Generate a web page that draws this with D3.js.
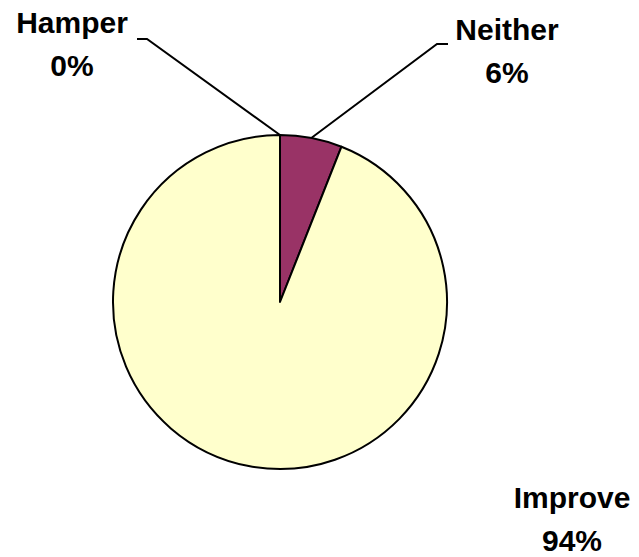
<!DOCTYPE html>
<html>
<head>
<meta charset="utf-8">
<script src="https://cdn.jsdelivr.net/npm/d3@7"></script>
<style>
  html, body { margin: 0; padding: 0; background: #fff; }
  svg { display: block; }
  text { font-family: "Liberation Sans", Arial, sans-serif; font-weight: bold; fill: #000; }
</style>
</head>
<body>
<svg id="chart" width="639" height="557"></svg>
<script>
// Survey answers, drawn clockwise from 12 o'clock
const categories = ["Hamper", "Neither", "Improve"];
const values = [0, 6, 94];
const percentLabels = ["0%", "6%", "94%"];
const colors = ["#993366", "#993366", "#FFFFCC"];

const width = 639, height = 557;
const cx = 280, cy = 302, radius = 167;

// Label placement: text centre / baselines, and optional leader-line elbow
const labelLayout = {
  Hamper:  { x: 72,  y: 33,  elbow: [147, 39], end: [137, 39] },
  Neither: { x: 507, y: 40,  elbow: [437, 44], end: [448, 44] },
  Improve: { x: 572, y: 508, elbow: null }
};
const lineGap = 43;

const svg = d3.select("#chart");
const g = svg.append("g").attr("transform", `translate(${cx},${cy})`);

const data = categories.map((c, i) => ({ name: c, value: values[i], label: percentLabels[i], color: colors[i] }));

const pie = d3.pie().sort(null).value(d => d.value);
const arc = d3.arc().innerRadius(0).outerRadius(radius);
const arcs = pie(data);

g.selectAll("path.slice")
  .data(arcs.filter(d => d.endAngle > d.startAngle))
  .join("path")
  .attr("class", "slice")
  .attr("d", arc)
  .attr("fill", d => d.data.color)
  .attr("stroke", "#000")
  .attr("stroke-width", 2)
  .attr("stroke-linejoin", "round");

// Leader lines from the slice edge midpoint to the labels
arcs.forEach(d => {
  const lay = labelLayout[d.data.name];
  if (!lay.elbow) return;
  const mid = (d.startAngle + d.endAngle) / 2;
  const px = cx + radius * Math.sin(mid);
  const py = cy - radius * Math.cos(mid);
  svg.append("path")
    .attr("d", d3.line()([[px, py], lay.elbow, lay.end]))
    .attr("fill", "none")
    .attr("stroke", "#000")
    .attr("stroke-width", 2);
});

// Category and percentage labels
arcs.forEach(d => {
  const lay = labelLayout[d.data.name];
  const t = svg.append("text")
    .attr("text-anchor", "middle")
    .attr("font-size", 30);
  t.append("tspan").attr("x", lay.x).attr("y", lay.y).text(d.data.name);
  t.append("tspan").attr("x", lay.x).attr("y", lay.y + lineGap).text(d.data.label);
});
</script>
</body>
</html>
